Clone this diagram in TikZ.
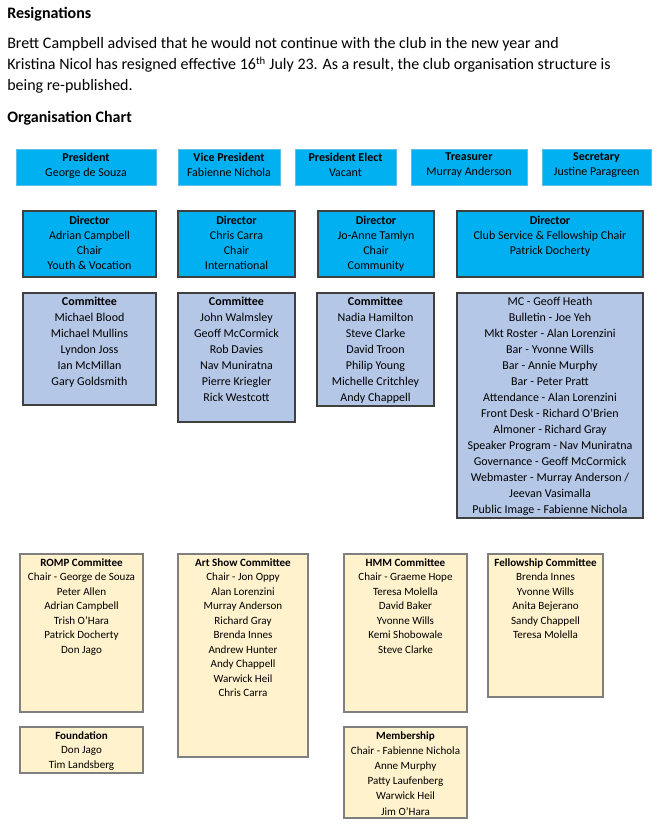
\documentclass[tikz,border=0pt]{standalone}
\usepackage{fontspec}
\setmainfont{Carlito}
\definecolor{topblue}{HTML}{00B0F0}
\definecolor{edgeblue}{HTML}{5BBFEA}
\definecolor{darkedge}{HTML}{404040}
\definecolor{combg}{HTML}{B4C7E7}
\definecolor{grpbg}{HTML}{FFF2CC}
\definecolor{grpedge}{HTML}{7F7F7F}

\begin{document}
\begin{tikzpicture}[x = 0.75pt, y = -0.75pt,
                    office/.style = {fill = topblue, draw = edgeblue, line width = 0.6pt},
                    director/.style = {fill = topblue, draw = darkedge, line width = 0.8pt},
                    committee/.style = {fill = combg, draw = darkedge, line width = 0.8pt},
                    group/.style = {fill = grpbg, draw = grpedge, line width = 0.8pt},
                    boxtext/.style = {anchor = north, inner sep = 0, align = center,
                                      font = \fontsize{9}{11.25}\selectfont},
                    comtext/.style = {anchor = north, inner sep = 0, align = center,
                                      font = \fontsize{9}{12}\selectfont},
                    grptext/.style = {anchor = north, inner sep = 0, align = center,
                                      font = \fontsize{8.3}{10.9}\selectfont},
                    head/.style = {anchor = base west, inner sep = 0, font = \fontsize{12}{14}\selectfont\bfseries}]
      \useasboundingbox (0, 0) rectangle (658, 840);
      % heading and note
      \node [head] (resig) at (7, 18) {Resignations};
      \node [anchor = north west, inner sep = 0, align = left,
             font = \fontsize{12}{15.75}\selectfont] (note) at (7, 37.5)
            {Brett Campbell advised that he would not continue with the club in the new year and\\
             Kristina Nicol has resigned effective 16\textsuperscript{th} July 23. As a result, the club organisation structure is\\
             being re-published.};
      \node [head] (chart) at (7, 122) {Organisation Chart};
      % office bearers
      \draw [office] (16, 149) rectangle (156, 185);
      \node [boxtext] (pres) at (86, 152.5) {\textbf{President}\\George de Souza};
      \draw [office] (178, 149) rectangle (280, 185);
      \node [boxtext] (vp) at (229, 152.5) {\textbf{Vice President}\\Fabienne Nichola};
      \draw [office] (295, 149) rectangle (396, 185);
      \node [boxtext] (pe) at (345.5, 152.5) {\textbf{President Elect}\\Vacant};
      \draw [office] (411, 149) rectangle (527, 185);
      \node [boxtext] (treas) at (469, 152.5) {\textbf{Treasurer}\\Murray Anderson};
      \draw [office] (542, 149) rectangle (651, 185);
      \node [boxtext] (sec) at (596.5, 152.5) {\textbf{Secretary}\\Justine Paragreen};
      % directors
      \draw [director] (23, 211) rectangle (156, 277);
      \node [boxtext] (d1) at (89.5, 215.5) {\textbf{Director}\\Adrian Campbell\\Chair\\Youth \& Vocation};
      \draw [director] (178, 211) rectangle (295, 277);
      \node [boxtext] (d2) at (236.5, 215.5) {\textbf{Director}\\Chris Carra\\Chair\\International};
      \draw [director] (318, 211) rectangle (434, 277);
      \node [boxtext] (d3) at (376, 215.5) {\textbf{Director}\\Jo-Anne Tamlyn\\Chair\\Community};
      \draw [director] (457, 211) rectangle (643, 277);
      \node [boxtext] (d4) at (550, 215.5) {\textbf{Director}\\Club Service \& Fellowship Chair\\Patrick Docherty};
      % committees
      \draw [committee] (23, 293) rectangle (156, 405);
      \node [comtext] (c1) at (89.5, 296.5) {\textbf{Committee}\\Michael Blood\\Michael Mullins\\Lyndon Joss\\Ian McMillan\\Gary Goldsmith};
      \draw [committee] (178, 293) rectangle (295, 422);
      \node [comtext] (c2) at (236.5, 296.5) {\textbf{Committee}\\John Walmsley\\Geoff McCormick\\Rob Davies\\Nav Muniratna\\Pierre Kriegler\\Rick Westcott};
      \draw [committee] (317, 293) rectangle (434, 406);
      \node [comtext] (c3) at (375.5, 296.5) {\textbf{Committee}\\Nadia Hamilton\\Steve Clarke\\David Troon\\Philip Young\\Michelle Critchley\\Andy Chappell};
      \draw [committee] (457, 293) rectangle (643, 518);
      \node [comtext] (c4) at (550, 296.5) {MC - Geoff Heath\\Bulletin - Joe Yeh\\Mkt Roster - Alan Lorenzini\\Bar - Yvonne Wills\\Bar - Annie Murphy\\Bar - Peter Pratt\\Attendance - Alan Lorenzini\\Front Desk - Richard O'Brien\\Almoner - Richard Gray\\Speaker Program - Nav Muniratna\\Governance - Geoff McCormick\\Webmaster - Murray Anderson /\\Jeevan Vasimalla\\Public Image - Fabienne Nichola};
      % working groups
      \draw [group] (20, 554) rectangle (143, 712);
      \node [grptext] (romp) at (81.5, 558) {\textbf{ROMP Committee}\\Chair - George de Souza\\Peter Allen\\Adrian Campbell\\Trish O'Hara\\Patrick Docherty\\Don Jago};
      \draw [group] (178, 554) rectangle (308, 757);
      \node [grptext] (art) at (243, 558) {\textbf{Art Show Committee}\\Chair - Jon Oppy\\Alan Lorenzini\\Murray Anderson\\Richard Gray\\Brenda Innes\\Andrew Hunter\\Andy Chappell\\Warwick Heil\\Chris Carra};
      \draw [group] (344, 554) rectangle (467, 712);
      \node [grptext] (hmm) at (405.5, 558) {\textbf{HMM Committee}\\Chair - Graeme Hope\\Teresa Molella\\David Baker\\Yvonne Wills\\Kemi Shobowale\\Steve Clarke};
      \draw [group] (488, 554) rectangle (603, 697);
      \node [grptext] (fellow) at (545.5, 558) {\textbf{Fellowship Committee}\\Brenda Innes\\Yvonne Wills\\Anita Bejerano\\Sandy Chappell\\Teresa Molella};
      \draw [group] (20, 727) rectangle (143, 773);
      \node [grptext] (found) at (81.5, 731) {\textbf{Foundation}\\Don Jago\\Tim Landsberg};
      \draw [group] (344, 727) rectangle (467, 818);
      \node [grptext, font = \fontsize{8.3}{11.4}\selectfont] (member) at (405.5, 731) {\textbf{Membership}\\Chair - Fabienne Nichola\\Anne Murphy\\Patty Laufenberg\\Warwick Heil\\Jim O'Hara};
    \end{tikzpicture}
\end{document}
